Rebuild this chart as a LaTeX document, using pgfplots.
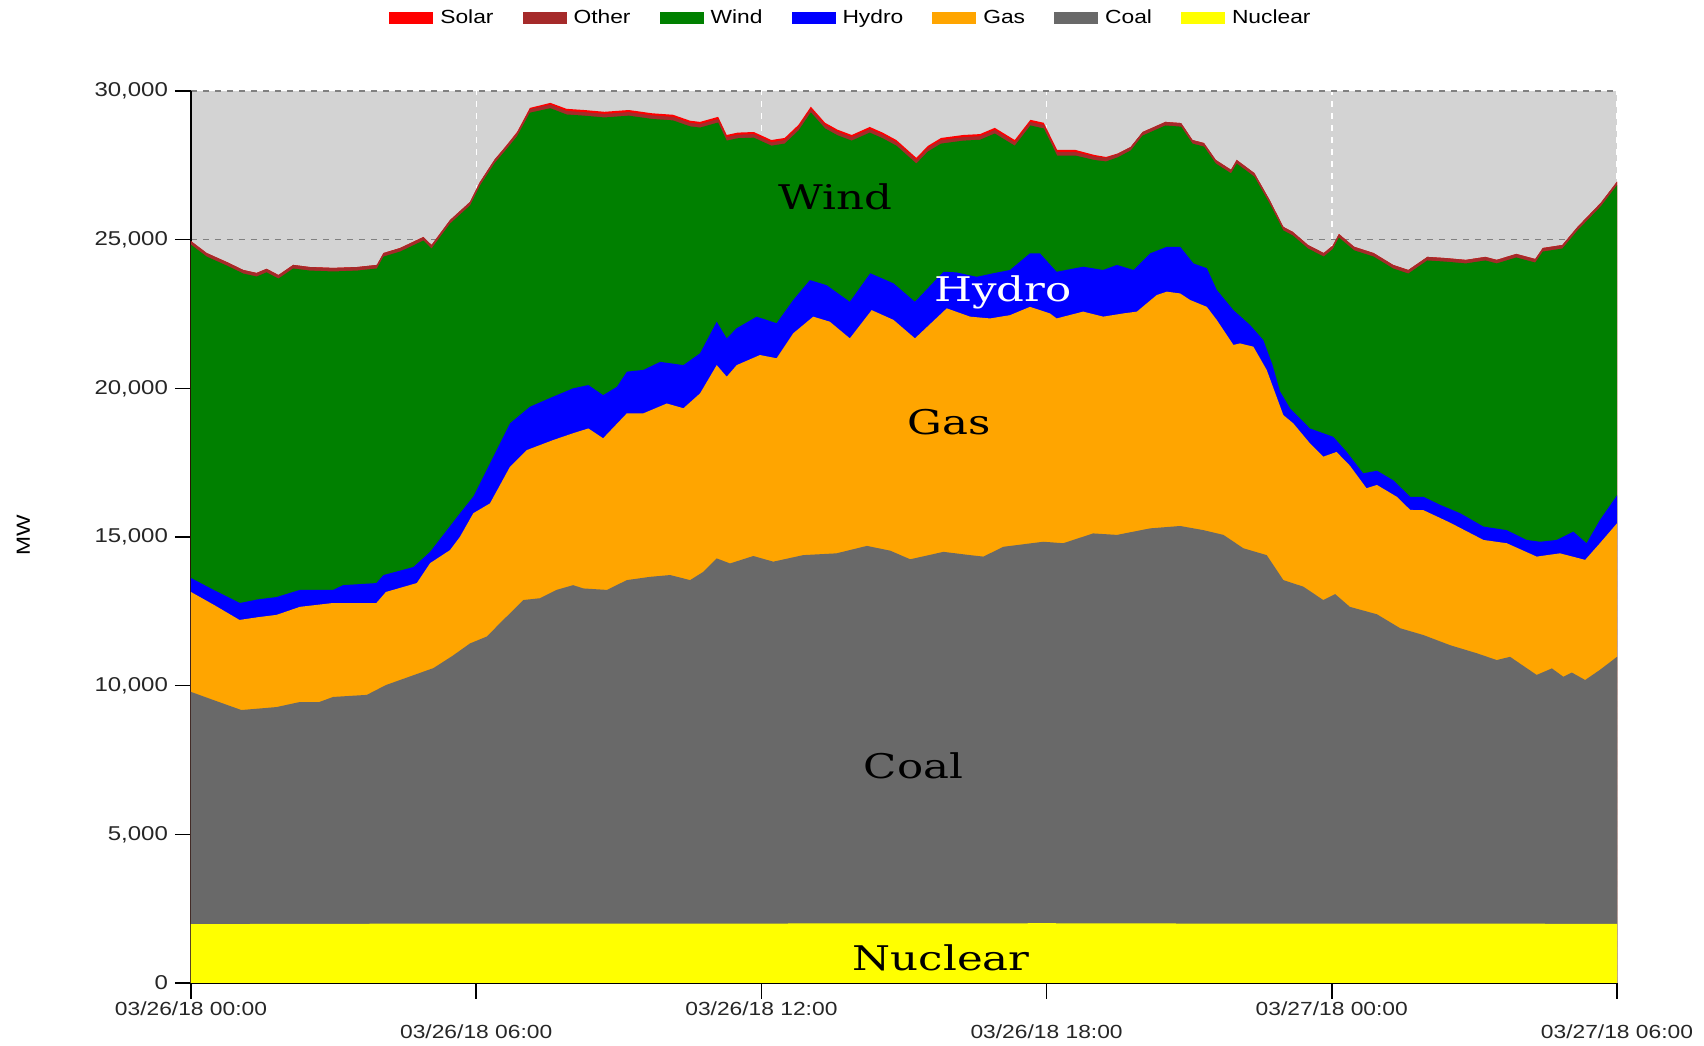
\documentclass[border=0pt]{standalone}
\usepackage{fontspec}
\setmainfont{Liberation Sans}[FakeStretch=1.2]
\newfontfamily\labfont{DejaVu Serif}[FakeStretch=1.28]
\usepackage{pgfplots}
\pgfplotsset{compat=1.18}
\usepackage{pgfplotstable}

\definecolor{cSolar}{HTML}{FF0000}
\definecolor{cOther}{HTML}{A52A2A}
\definecolor{cWind}{HTML}{008000}
\definecolor{cHydro}{HTML}{0000FF}
\definecolor{cGas}{HTML}{FFA500}
\definecolor{cCoal}{HTML}{696969}
\definecolor{cNuc}{HTML}{FFFF00}
\definecolor{bgGray}{HTML}{D3D3D3}

\pgfplotsset{layers/mylayers/.define layer set={axis background,axis grid,main,axis ticks,axis lines,axis tick labels,axis descriptions,axis foreground}{}}

% cumulative tops: solar (total), other, wind
\pgfplotstableread{
h solar other wind
0.00 24950 24950 24830
0.33 24550 24550 24430
0.75 24250 24250 24130
1.10 23980 23980 23860
1.38 23880 23880 23760
1.59 24020 24020 23900
1.84 23810 23810 23690
2.15 24150 24150 24030
2.50 24080 24080 23960
2.99 24050 24050 23930
3.50 24080 24080 23960
3.91 24150 24150 24030
4.05 24550 24550 24430
4.40 24720 24720 24600
4.89 25090 25090 24970
5.06 24820 24820 24700
5.45 25660 25660 25540
5.87 26270 26270 26150
6.08 26940 26940 26820
6.39 27700 27700 27580
6.60 28100 28090 27970
6.86 28620 28600 28480
7.13 29430 29390 29270
7.56 29600 29540 29420
7.90 29400 29330 29210
8.27 29360 29290 29170
8.70 29300 29230 29110
9.21 29360 29290 29170
9.70 29250 29180 29060
10.14 29200 29130 29010
10.50 29000 28930 28810
10.71 28960 28890 28770
11.09 29130 29060 28940
11.27 28520 28450 28330
11.50 28600 28530 28410
11.84 28620 28550 28430
12.21 28350 28280 28160
12.49 28420 28350 28230
12.78 28860 28790 28670
13.04 29470 29400 29280
13.34 28930 28860 28740
13.60 28700 28630 28510
13.90 28520 28450 28330
14.28 28790 28720 28600
14.55 28600 28530 28410
14.84 28350 28280 28160
15.26 27750 27680 27560
15.50 28150 28080 27960
15.78 28420 28350 28230
16.25 28520 28450 28330
16.60 28550 28480 28360
16.91 28760 28690 28570
17.33 28350 28280 28160
17.66 29030 28960 28840
17.94 28930 28860 28740
18.22 28020 27950 27830
18.60 28020 27950 27830
19.00 27850 27800 27680
19.25 27780 27750 27630
19.50 27900 27890 27770
19.77 28120 28120 28000
20.02 28620 28620 28500
20.50 28960 28960 28840
20.83 28920 28920 28800
21.07 28350 28350 28230
21.31 28250 28250 28130
21.56 27680 27680 27560
21.88 27350 27350 27230
22.00 27680 27680 27560
22.37 27240 27240 27120
22.69 26340 26340 26220
22.98 25430 25430 25310
23.18 25260 25260 25140
23.50 24820 24820 24700
23.83 24550 24550 24430
24.02 24800 24800 24680
24.15 25190 25190 25070
24.47 24760 24760 24640
24.88 24550 24550 24430
25.29 24150 24150 24030
25.61 23980 23980 23860
26.01 24420 24420 24300
26.40 24380 24380 24260
26.82 24320 24320 24200
27.23 24420 24420 24300
27.47 24320 24320 24200
27.88 24520 24520 24400
28.28 24350 24350 24230
28.44 24720 24720 24600
28.85 24820 24820 24700
29.17 25430 25430 25310
29.66 26240 26240 26120
30.00 26950 26950 26830
}\tabTop

\pgfplotstableread{
h v
0.00 13620
0.50 13200
1.03 12780
1.40 12900
1.80 12980
2.29 13220
2.99 13220
3.20 13380
3.90 13450
4.05 13720
4.68 13990
5.03 14500
5.66 15800
5.94 16360
6.36 17700
6.71 18820
7.13 19380
7.62 19720
8.04 20000
8.36 20110
8.67 19770
8.96 20050
9.17 20560
9.52 20620
9.87 20890
10.36 20780
10.71 21180
11.06 22240
11.27 21680
11.48 22020
11.90 22410
12.32 22190
12.67 22970
13.02 23640
13.37 23470
13.86 22910
14.29 23870
14.78 23530
15.23 22910
15.83 23920
16.10 23900
16.53 23750
16.88 23870
17.23 23980
17.65 24540
17.86 24540
18.21 23920
18.77 24090
19.19 23980
19.48 24150
19.83 23980
20.18 24540
20.53 24760
20.81 24760
21.09 24200
21.37 24040
21.58 23310
21.93 22630
22.28 22130
22.56 21620
22.75 20800
22.91 19900
23.12 19330
23.54 18650
24.03 18370
24.31 17870
24.66 17140
24.95 17230
25.30 16900
25.65 16350
25.93 16350
26.28 16080
26.70 15800
27.19 15350
27.68 15230
28.10 14900
28.38 14840
28.73 14900
29.08 15180
29.36 14790
29.64 15570
30.00 16400
}\tabHydro

\pgfplotstableread{
h v
0.00 13150
0.50 12700
1.02 12210
1.40 12300
1.80 12380
2.29 12650
2.99 12780
3.50 12780
3.90 12780
4.10 13150
4.75 13450
5.03 14120
5.45 14560
5.66 15010
5.94 15800
6.29 16130
6.71 17360
7.06 17920
7.62 18260
8.04 18490
8.36 18650
8.67 18320
9.17 19160
9.52 19160
10.01 19490
10.36 19330
10.71 19830
11.06 20780
11.27 20390
11.48 20780
11.97 21120
12.32 21010
12.67 21850
13.09 22410
13.44 22240
13.86 21680
14.32 22630
14.78 22300
15.23 21680
15.90 22690
16.39 22410
16.81 22350
17.23 22460
17.65 22740
18.07 22520
18.21 22350
18.77 22580
19.19 22410
19.62 22520
19.90 22580
20.32 23140
20.53 23250
20.81 23190
21.02 22970
21.37 22740
21.58 22300
21.93 21460
22.07 21510
22.35 21400
22.63 20620
22.98 19100
23.19 18820
23.54 18150
23.82 17700
24.10 17860
24.38 17400
24.73 16640
24.95 16750
25.37 16350
25.65 15910
25.93 15900
26.49 15480
27.19 14900
27.68 14790
28.31 14340
28.80 14450
29.33 14230
29.64 14790
30.00 15460
}\tabGas

\pgfplotstableread{
h v
0.00 9790
0.50 9500
1.06 9180
1.80 9280
2.29 9450
2.70 9450
2.99 9620
3.70 9690
4.10 10020
5.10 10590
5.50 11000
5.87 11420
6.22 11650
6.57 12210
6.99 12880
7.34 12940
7.69 13220
8.04 13380
8.25 13270
8.75 13220
9.17 13550
9.66 13660
10.08 13720
10.50 13550
10.78 13830
11.06 14280
11.34 14110
11.83 14360
12.25 14170
12.88 14390
13.58 14450
14.22 14700
14.71 14540
15.13 14250
15.83 14500
16.39 14390
16.67 14340
17.09 14670
17.93 14840
18.35 14790
18.98 15120
19.48 15070
20.18 15290
20.81 15370
21.30 15230
21.72 15070
22.14 14620
22.63 14390
22.98 13550
23.40 13330
23.82 12880
24.07 13080
24.38 12650
24.95 12400
25.44 11930
25.93 11700
26.49 11360
27.05 11090
27.47 10860
27.75 10970
28.31 10360
28.63 10580
28.87 10300
29.05 10440
29.33 10190
29.64 10530
30.00 10970
}\tabCoal

\pgfplotstableread{
h v
0 1980
3 1990
6 2000
9 1995
12 2000
15 2005
18 2010
21 2000
24 2000
27 1995
30 1990
}\tabNuc

\begin{document}
\begin{tikzpicture}
\begin{axis}[
  name=ax,
  set layers=mylayers,
  width=713pt, height=446pt, scale only axis,
  xmin=0, xmax=30, ymin=0, ymax=30000,
  axis x line*=bottom, axis y line*=left,
  axis line style={black, line width=1pt},
  axis background/.style={fill=bgGray},
  xtick={0,6,12,18,24,30},
  xticklabels={{03/26/18 00:00},{03/26/18 06:00},{03/26/18 12:00},{03/26/18 18:00},{03/27/18 00:00},{03/27/18 06:00}},
  xticklabel style={font=\fontsize{9.5}{12.5}\selectfont, text=black!85, yshift={2pt-11.5pt*mod(\ticknum,2)}},
  ytick={0,5000,10000,15000,20000,25000,30000},
  scaled y ticks=false,
  /pgf/number format/1000 sep={,},
  /pgf/number format/assume math mode=true,
  yticklabel style={font=\fontsize{10}{12}\selectfont, text=black!85},
  tick align=outside, major tick length=8pt,
  tick style={black, line width=0.8pt},
  xmajorgrids, ymajorgrids,
  x grid style={white, dashed, line width=0.7pt},
  y grid style={gray, dashed, line width=0.7pt},
  ylabel={MW},
  ylabel style={at={(axis description cs:-0.1175,0.502)}, anchor=center, font=\fontsize{9.5}{12}\selectfont},
  legend columns=-1,
  legend style={at={(axis description cs:0.4635,1.0818)}, anchor=center, draw=none, fill=none,
    font=\fontsize{9.5}{12}\selectfont, column sep=1.5pt,
    /tikz/every even column/.append style={column sep=12.5pt}},
  legend image code/.code={\fill[#1] (0pt,-3.2pt) rectangle (22pt,3.2pt);},
]
\addplot[fill=cSolar, draw=none] table[x=h, y=solar]{\tabTop} \closedcycle;
\addplot[fill=cOther, draw=none] table[x=h, y=other]{\tabTop} \closedcycle;
\addplot[fill=cWind, draw=none] table[x=h, y=wind]{\tabTop} \closedcycle;
\addplot[fill=cHydro, draw=none] table[x=h, y=v]{\tabHydro} \closedcycle;
\addplot[fill=cGas, draw=none] table[x=h, y=v]{\tabGas} \closedcycle;
\addplot[fill=cCoal, draw=none] table[x=h, y=v]{\tabCoal} \closedcycle;
\addplot[fill=cNuc, draw=none] table[x=h, y=v]{\tabNuc} \closedcycle;
\legend{Solar,Other,Wind,Hydro,Gas,Coal,Nuclear}
\node[font=\labfont\fontsize{17}{20}\selectfont, text=black] at (axis cs:13.55,26430) {Wind};
\node[font=\labfont\fontsize{17}{20}\selectfont, text=white] at (axis cs:17.08,23240) {Hydro};
\node[font=\labfont\fontsize{17}{20}\selectfont, text=black] at (axis cs:15.95,18870) {Gas};
\node[font=\labfont\fontsize{17}{20}\selectfont, text=black] at (axis cs:15.2,7300) {Coal};
\node[font=\labfont\fontsize{17}{20}\selectfont, text=black] at (axis cs:15.78,840) {Nuclear};
\end{axis}
\path ([xshift=-95.5pt,yshift=-31pt]ax.south west) rectangle ([xshift=43.5pt,yshift=45.5pt]ax.north east);
\end{tikzpicture}
\end{document}
